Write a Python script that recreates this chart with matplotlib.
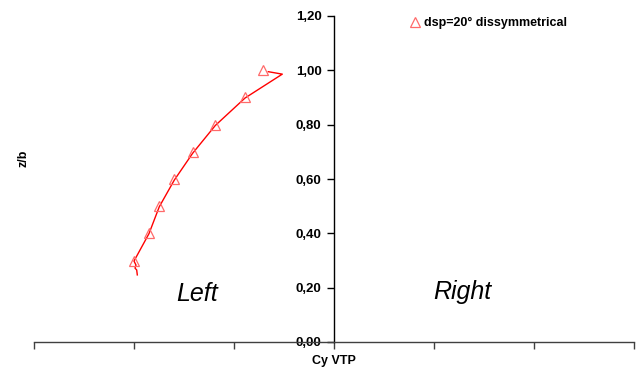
import matplotlib
matplotlib.use("Agg")
import matplotlib.pyplot as plt
from matplotlib.ticker import FixedLocator, FuncFormatter
from matplotlib.lines import Line2D

plt.rcParams['font.family'] = ['Liberation Sans', 'DejaVu Sans']

# Spanwise stations (z/b) and side-force coefficient at the measured points
z_points = [1.0, 0.9, 0.8, 0.7, 0.6, 0.5, 0.4, 0.3]
cy_points = [-0.0707, -0.0890, -0.1187, -0.1413, -0.1597, -0.1747, -0.1850, -0.2000]

# Continuous distribution along the span
z_curve = [0.995, 0.986, 0.898, 0.797, 0.695, 0.596, 0.498, 0.399, 0.298,
           0.283, 0.272, 0.265, 0.247]
cy_curve = [-0.0657, -0.0517, -0.0890, -0.1187, -0.1413, -0.1597, -0.1747,
            -0.1850, -0.2000, -0.1980, -0.1990, -0.1973, -0.1967]

y_ticks = [0.0, 0.2, 0.4, 0.6, 0.8, 1.0, 1.2]
x_ticks = [-0.3, -0.2, -0.1, 0.0, 0.1, 0.2, 0.3]
series_label = "dsp=20° dissymmetrical"

W, H = 642, 370
fig = plt.figure(figsize=(W / 100, H / 100), dpi=100)
ax = fig.add_axes([34 / W, 28 / H, 600 / W, 326 / H])

ax.plot(cy_curve, z_curve, color='#ff0000', lw=1.0, zorder=2)
ax.plot(cy_points, z_points, linestyle='none', marker='^', markersize=6.5,
        markerfacecolor='none', markeredgecolor='#ff6a6a', markeredgewidth=0.9,
        zorder=3)

ax.set_xlim(-0.3, 0.3)
ax.set_ylim(0.0, 1.2)

for side in ('top', 'right'):
    ax.spines[side].set_visible(False)
ax.spines['left'].set_position(('data', 0.0))
ax.spines['bottom'].set_position(('data', 0.0))
ax.spines['left'].set_color('#000000')
ax.spines['bottom'].set_color('#404040')
for side in ('left', 'bottom'):
    ax.spines[side].set_linewidth(1.0)

ax.xaxis.set_major_locator(FixedLocator(x_ticks))
ax.yaxis.set_major_locator(FixedLocator(y_ticks))
ax.tick_params(axis='x', direction='out', length=5, width=1, labelbottom=False,
               color='#404040')
ax.tick_params(axis='y', direction='out', length=5, width=1, pad=4,
               labelsize=9.5)
ax.yaxis.set_major_formatter(FuncFormatter(lambda v, p: f"{v:.2f}".replace('.', ',')))
for lbl in ax.get_yticklabels():
    lbl.set_fontweight('bold')

ax.patch.set_alpha(0)

fig.text(334 / W, 1 - 361 / H, "Cy VTP", ha='center', va='center',
         fontsize=9, fontweight='bold')
fig.text(24 / W, 1 - 158 / H, "z/b", ha='center', va='center', rotation=90,
         fontsize=9, fontweight='bold')

ax.text(-0.1365, 0.152, "Left", ha='center', va='baseline', fontsize=18,
        style='italic')
ax.text(0.128, 0.158, "Right", ha='center', va='baseline', fontsize=18,
        style='italic')

handle = Line2D([], [], linestyle='none', marker='^', markersize=6.5,
                markerfacecolor='none', markeredgecolor='#ff6a6a',
                markeredgewidth=0.9)
fig.legend([handle], [series_label], loc='center left',
           bbox_to_anchor=(404 / W, 1 - 23 / H), frameon=False,
           prop={'size': 9, 'weight': 'bold'}, handlelength=0.8,
           handletextpad=0.3, borderpad=0)

fig.savefig("out.png", dpi=100)
